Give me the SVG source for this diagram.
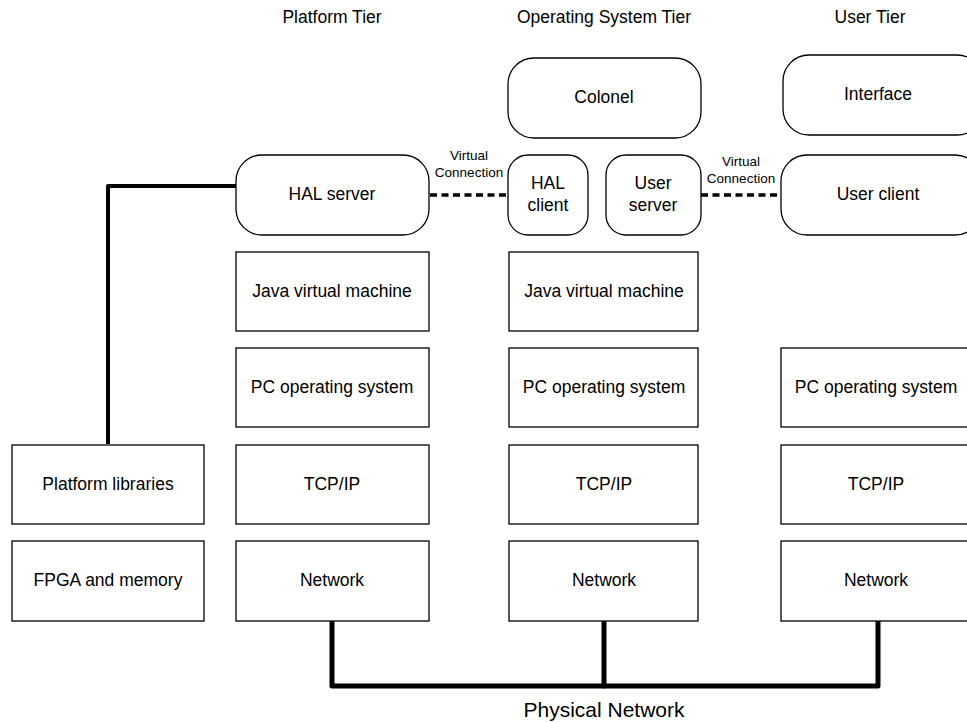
<svg xmlns="http://www.w3.org/2000/svg" width="967" height="722" viewBox="0 0 967 722">
<style>
.b{fill:#fff;stroke:#000;stroke-width:1.3}
.t{font-family:"Liberation Sans",Arial,sans-serif;font-size:17.5px;fill:#000;text-anchor:middle;dominant-baseline:central}
.s{font-family:"Liberation Sans",Arial,sans-serif;font-size:13.5px;fill:#000;text-anchor:middle}
.h{font-family:"Liberation Sans",Arial,sans-serif;font-size:17.5px;fill:#000;text-anchor:middle}
.thick{fill:none;stroke:#000;stroke-width:5;stroke-linejoin:round;stroke-linecap:round}
.dash{fill:none;stroke:#000;stroke-width:3.5;stroke-dasharray:7 4.5}
</style>
<rect width="967" height="722" fill="#fff"/>
<g id="tier-labels">
<text class="h" x="332" y="23">Platform Tier</text>
<text class="h" x="604" y="23">Operating System Tier</text>
<text class="h" x="870" y="23">User Tier</text>
</g>
<g id="connectors">
<polyline class="thick" points="108,444 108,186 236,186" style="stroke-width:4;stroke-linecap:butt"/>
<polyline class="thick" points="332,621 332,686 878,686 878,621"/>
<line class="thick" x1="604" y1="621" x2="604" y2="686"/>
<line class="dash" x1="430" y1="195" x2="508" y2="195"/>
<line class="dash" x1="701" y1="195" x2="781" y2="195"/>
<text class="s" x="469" y="160">Virtual</text>
<text class="s" x="469" y="177">Connection</text>
<text class="s" x="741" y="166">Virtual</text>
<text class="s" x="741" y="183">Connection</text>
<text id="physical-network" x="604" y="717" style="font-family:'Liberation Sans',Arial,sans-serif;font-size:21px;text-anchor:middle">Physical Network</text>
</g>
<g id="platform-libraries"><rect class="b" x="12" y="445" width="192" height="79"/><text class="t" x="108" y="484">Platform libraries</text></g>
<g id="fpga-memory"><rect class="b" x="12" y="541" width="192" height="80"/><text class="t" x="108" y="580">FPGA and memory</text></g>
<g id="hal-server"><rect class="b" x="236" y="155" width="193" height="80" rx="26"/><text class="t" x="332" y="194">HAL server</text></g>
<g id="jvm-platform"><rect class="b" x="236" y="252" width="193" height="79"/><text class="t" x="332" y="291">Java virtual machine</text></g>
<g id="pcos-platform"><rect class="b" x="236" y="348" width="193" height="79"/><text class="t" x="332" y="387">PC operating system</text></g>
<g id="tcpip-platform"><rect class="b" x="236" y="445" width="193" height="79"/><text class="t" x="332" y="484">TCP/IP</text></g>
<g id="network-platform"><rect class="b" x="236" y="541" width="193" height="80"/><text class="t" x="332" y="580">Network</text></g>
<g id="colonel"><rect class="b" x="508" y="58" width="193" height="80" rx="26"/><text class="t" x="604" y="97">Colonel</text></g>
<g id="hal-client"><rect class="b" x="508" y="155" width="80" height="80" rx="20"/><text class="t" x="548" y="183">HAL</text><text class="t" x="548" y="205">client</text></g>
<g id="user-server"><rect class="b" x="606" y="155" width="95" height="80" rx="20"/><text class="t" x="653" y="183">User</text><text class="t" x="653" y="205">server</text></g>
<g id="jvm-os"><rect class="b" x="509" y="252" width="189" height="79"/><text class="t" x="604" y="291">Java virtual machine</text></g>
<g id="pcos-os"><rect class="b" x="509" y="348" width="189" height="79"/><text class="t" x="604" y="387">PC operating system</text></g>
<g id="tcpip-os"><rect class="b" x="509" y="445" width="189" height="79"/><text class="t" x="604" y="484">TCP/IP</text></g>
<g id="network-os"><rect class="b" x="509" y="541" width="189" height="80"/><text class="t" x="604" y="580">Network</text></g>
<g id="interface"><rect class="b" x="783" y="55" width="200" height="80" rx="26"/><text class="t" x="878" y="94">Interface</text></g>
<g id="user-client"><rect class="b" x="781" y="155" width="200" height="80" rx="26"/><text class="t" x="878" y="194">User client</text></g>
<g id="pcos-user"><rect class="b" x="781" y="348" width="200" height="79"/><text class="t" x="876" y="387">PC operating system</text></g>
<g id="tcpip-user"><rect class="b" x="781" y="445" width="200" height="79"/><text class="t" x="876" y="484">TCP/IP</text></g>
<g id="network-user"><rect class="b" x="781" y="541" width="200" height="80"/><text class="t" x="876" y="580">Network</text></g>
</svg>
